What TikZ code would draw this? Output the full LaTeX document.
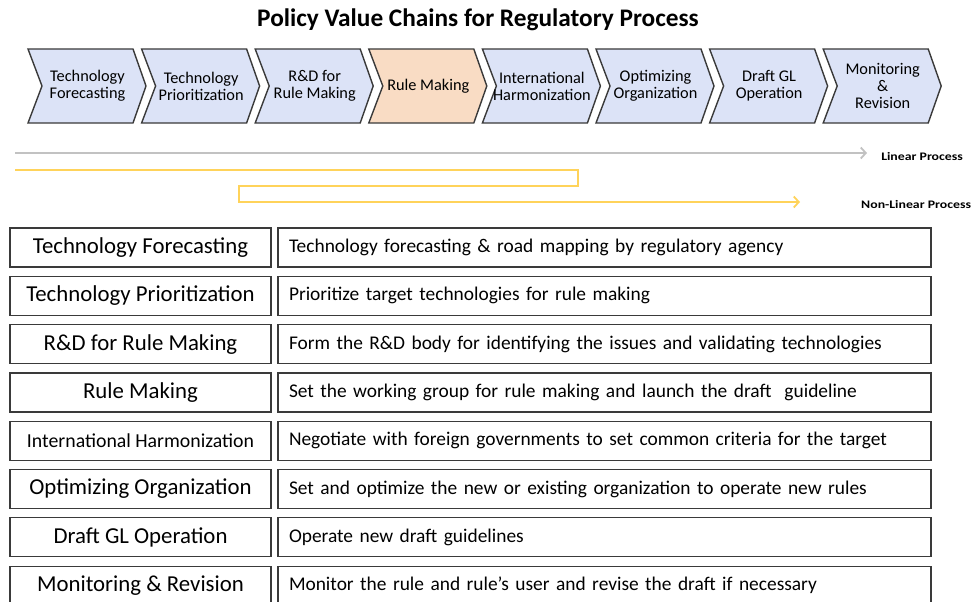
\documentclass[tikz,border=0pt]{standalone}
\usepackage{fontspec}
\setmainfont{Carlito}
\usetikzlibrary{arrows.meta}

\definecolor{chevblue}{HTML}{DCE3F7}
\definecolor{chevpeach}{HTML}{F9DCC4}
\definecolor{edgegray}{HTML}{3A3A3A}
\definecolor{lineargray}{HTML}{C2C2C2}
\definecolor{nonlinyellow}{HTML}{FFD35A}

% one chevron of the value chain: #1 left x, #2 node name, #3 fill, #4 label
\newcommand\chevronstep[4]{%
  \draw[chevedge, fill=#3] (#1,49) -- ++(105,0) -- ++(13,37) -- ++(-13,37)
       -- ++(-105,0) -- ++(14,-37) -- cycle;
  \node[chevtext] (#2) at (#1+59.5,86) {#4};}

\begin{document}
\begin{tikzpicture}[x=1pt,y=-1pt,
  chevedge/.style={draw=edgegray, line width=1.4pt, line join=miter},
  chevtext/.style={align=center, inner sep=0pt, font=\fontsize{16.3}{17}\selectfont},
  proclabel/.style={font=\bfseries\fontsize{11.5}{13}\selectfont, xscale=1.2, inner sep=0pt, anchor=west},
  barb/.style={-{Straight Barb[length=5pt,width=11pt,line width=1.8pt]}},
  leftcell/.style={draw=edgegray, line width=1.2pt, minimum width=261pt, minimum height=39pt,
                   inner sep=0pt, font=\fontsize{22.8}{25}\selectfont},
  rightcell/.style={draw=edgegray, line width=1.2pt, minimum width=653pt, minimum height=39pt,
                    text width=631pt, align=left, inner sep=0pt, font=\fontsize{19.4}{22}\selectfont}]
\useasboundingbox (0,0) rectangle (972,602);

% heading
\node[font=\bfseries\fontsize{25.3}{28}\selectfont] (title) at (478,20)
  {Policy Value Chains for Regulatory Process};

% value chain
\chevronstep{28}{c1}{chevblue}{Technology\\Forecasting}
\chevronstep{141.6}{c2}{chevblue}{Technology\\Prioritization}
\chevronstep{255.2}{c3}{chevblue}{R\&D for\\Rule Making}
\chevronstep{368.8}{c4}{chevpeach}{Rule Making}
\chevronstep{482.4}{c5}{chevblue}{International\\Harmonization}
\chevronstep{596}{c6}{chevblue}{Optimizing\\Organization}
\chevronstep{709.6}{c7}{chevblue}{Draft GL\\Operation}
\chevronstep{823.2}{c8}{chevblue}{Monitoring\\\&\\Revision}

% linear process arrow
\coordinate (lin-start) at (15,153);
\coordinate (lin-end) at (867,153);
\draw[lineargray, line width=2.6pt, barb] (lin-start) -- (lin-end);
\node[proclabel] (lin-label) at (881,157) {Linear Process};

% non-linear process arrow
\coordinate (nl-start) at (15,170);
\coordinate (nl-turn1) at (578,170);
\coordinate (nl-turn2) at (578,186);
\coordinate (nl-turn3) at (239,186);
\coordinate (nl-turn4) at (239,202);
\coordinate (nl-end) at (800,202);
\draw[nonlinyellow, line width=2.6pt, barb]
  (nl-start) -- (nl-turn1) -- (nl-turn2) -- (nl-turn3) -- (nl-turn4) -- (nl-end);
\node[proclabel] (nl-label) at (861,205) {Non-Linear Process};

% stage table
\node[leftcell]  (s1) at (140.5,247.5) {Technology Forecasting};
\node[rightcell] (d1) at (604.5,247.5) {Technology forecasting \& road mapping by regulatory agency};
\node[leftcell]  (s2) at (140.5,295.8) {Technology Prioritization};
\node[rightcell] (d2) at (604.5,295.8) {Prioritize target technologies for rule making};
\node[leftcell]  (s3) at (140.5,344.1) {R\&D for Rule Making};
\node[rightcell] (d3) at (604.5,344.1) {Form the R\&D body for identifying the issues and validating technologies};
\node[leftcell]  (s4) at (140.5,392.4) {Rule Making};
\node[rightcell] (d4) at (604.5,392.4) {Set the working group for rule making and launch the draft\ \ guideline};
\node[leftcell, font=\fontsize{19.8}{22}\selectfont] (s5) at (140.5,440.7) {International Harmonization};
\node[rightcell] (d5) at (604.5,440.7) {Negotiate with foreign governments to set common criteria for the target};
\node[leftcell]  (s6) at (140.5,489) {Optimizing Organization};
\node[rightcell] (d6) at (604.5,489) {Set and optimize the new or existing organization to operate new rules};
\node[leftcell]  (s7) at (140.5,537.3) {Draft GL Operation};
\node[rightcell] (d7) at (604.5,537.3) {Operate new draft guidelines};
\node[leftcell]  (s8) at (140.5,585.6) {Monitoring \& Revision};
\node[rightcell] (d8) at (604.5,585.6) {Monitor the rule and rule’s user and revise the draft if necessary};
\end{tikzpicture}
\end{document}
